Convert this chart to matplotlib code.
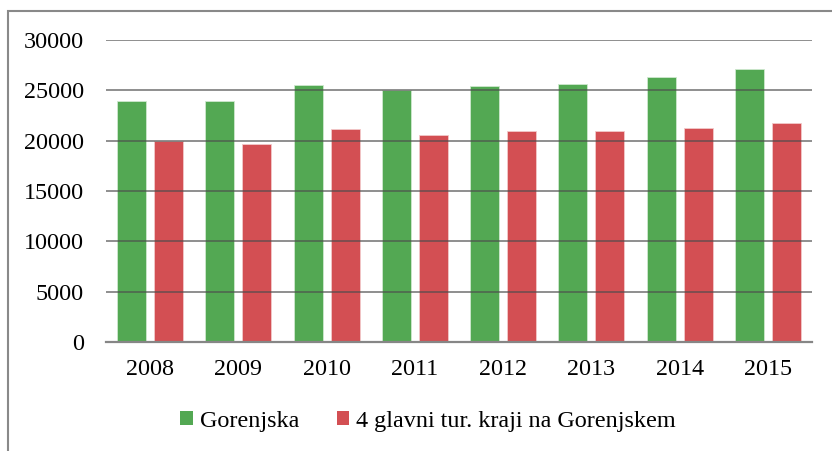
import matplotlib
matplotlib.use("Agg")
import matplotlib.pyplot as plt
from matplotlib.patches import Rectangle, Patch
import numpy as np

years = ["2008", "2009", "2010", "2011", "2012", "2013", "2014", "2015"]
gorenjska = [23950, 23990, 25540, 25040, 25470, 25600, 26320, 27100]
kraji = [19930, 19670, 21160, 20530, 20960, 20930, 21260, 21720]
series_names = ["Gorenjska", "4 glavni tur. kraji na Gorenjskem"]
yticks = [0, 5000, 10000, 15000, 20000, 25000, 30000]

plt.rcParams['font.family'] = ['Liberation Serif', 'DejaVu Serif']

W, H = 832, 451
fig = plt.figure(figsize=(W / 100, H / 100), dpi=100)
ax = fig.add_axes([106 / W, 1 - 342 / H, (812 - 106) / W, (342 - 40) / H])

green = "#53A853"
red = "#D34F53"
fs = 17.4
x = np.arange(len(years))
bw = 0.33
off = 0.21
ax.bar(x - off, gorenjska, width=bw, color=green, edgecolor="#cfe8cf", linewidth=0.6, zorder=2)
ax.bar(x + off, kraji, width=bw, color=red, edgecolor="#f2c9ca", linewidth=0.6, zorder=2)

ax.set_xlim(-0.5, len(years) - 0.5)
ax.set_ylim(0, 30000)
ax.set_yticks(yticks)
ax.set_yticklabels([str(v) for v in yticks])
ax.set_xticks(x)
ax.set_xticklabels(years)
for v in yticks[1:]:
    ax.axhline(v, color=(0.3, 0.3, 0.3, 0.8), linewidth=1.1, zorder=3)

for s in ["top", "right", "left"]:
    ax.spines[s].set_visible(False)
ax.spines["bottom"].set_color("#868686")
ax.spines["bottom"].set_linewidth(1.6)
ax.spines["bottom"].set_zorder(4)
ax.tick_params(axis="both", length=0, labelsize=fs, colors="black")
ax.tick_params(axis="y", pad=16)
ax.tick_params(axis="x", pad=12)

handles = [Patch(facecolor=green, edgecolor="none"), Patch(facecolor=red, edgecolor="none")]
fig.legend(handles, series_names, loc="center", bbox_to_anchor=(428 / W, 1 - 421 / H),
           ncol=2, frameon=False, fontsize=fs, handlelength=0.52, handleheight=0.52,
           handletextpad=0.3, columnspacing=1.55, borderpad=0)

fig.patches.append(Rectangle((8 / W, -0.1), 1.2, 1 - 11 / H + 0.1, transform=fig.transFigure,
                             fill=False, edgecolor="#898989", linewidth=1.5))

fig.savefig("out.png", dpi=100)
